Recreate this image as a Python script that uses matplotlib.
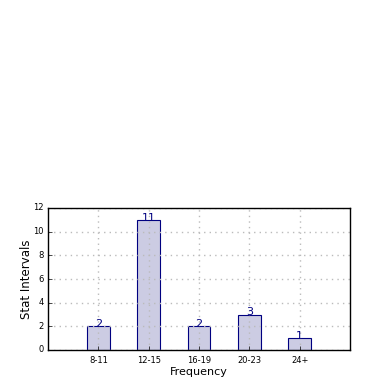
import numpy as np
import matplotlib
matplotlib.use("Agg")
import matplotlib.pyplot as plt

categories = ["8-11", "12-15", "16-19", "20-23", "24+"]
counts = [2, 11, 2, 3, 1]

plt.style.use("classic")
fig = plt.figure(figsize=(3.9, 3.9), dpi=100)
fig.patch.set_facecolor("white")
ax = fig.add_axes([48 / 390, 40 / 390, 302 / 390, 142 / 390])

x = np.arange(len(categories))
ax.bar(x, counts, width=0.45, align="center", color="#ccccE3",
       edgecolor="navy", linewidth=0.8, zorder=1)
for xi, c in zip(x, counts):
    ax.text(xi, c - 0.25, str(c), ha="center", va="bottom",
            color="navy", fontsize=8, zorder=3)

ax.set_xlim(-1, 5)
ax.set_ylim(0, 12)
ax.set_xticks(x)
ax.set_xticklabels(categories, fontsize=6)
ax.set_yticks(range(0, 13, 2))
ax.tick_params(axis="y", labelsize=6, pad=3)
ax.tick_params(direction="in", length=3, top=False, right=False)
ax.set_axisbelow(False)
ax.grid(True, linestyle=":", color="#bbbbbb", linewidth=1, zorder=2)
for sp in ax.spines.values():
    sp.set_zorder(4)
ax.set_xlabel("Frequency", fontsize=8, labelpad=2)
ax.set_ylabel("Stat Intervals", fontsize=8.5, labelpad=0)

fig.savefig("out.png", dpi=100, facecolor="white")
